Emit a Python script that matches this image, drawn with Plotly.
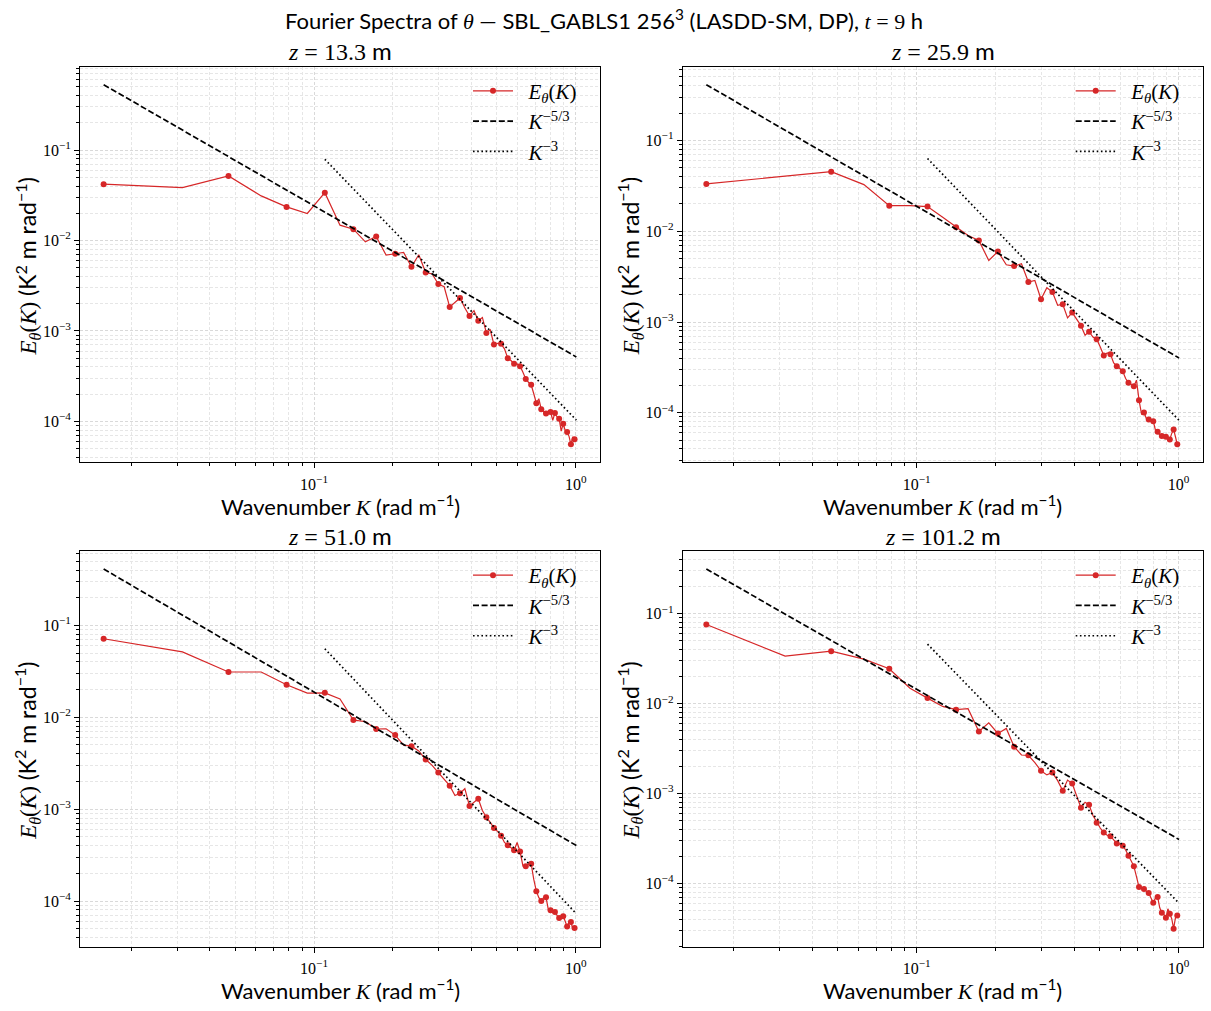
import numpy as np
import plotly.graph_objects as go

# ---------------- data ----------------
K = np.array([
    0.01571, 0.03142, 0.04712, 0.06283, 0.07854, 0.09425, 0.10996, 0.12566,
    0.14137, 0.15708, 0.17279, 0.18850, 0.20420, 0.21991, 0.23562, 0.25133,
    0.26704, 0.28274, 0.29845, 0.31416, 0.32987, 0.34558, 0.36128, 0.37699,
    0.39270, 0.40841, 0.42412, 0.43982, 0.45553, 0.47124, 0.48695, 0.50265,
    0.51836, 0.53407, 0.54978, 0.56549, 0.58119, 0.59690, 0.61261, 0.62832,
    0.64403, 0.65973, 0.67544, 0.69115, 0.70686, 0.72257, 0.73827, 0.75398,
    0.76969, 0.78540, 0.80111, 0.81681, 0.83252, 0.84823, 0.86394, 0.87965,
    0.89535, 0.91106, 0.92677, 0.94248, 0.95819, 0.97389, 0.98960, 1.00531])

E_z13 = [
    0.0419, 0.0384, 0.0517, 0.0311, 0.0235, 0.0199, 0.0338, 0.01476,
    0.01333, 0.00966, 0.01106, 0.00689, 0.00713, 0.00737, 0.00512, 0.00695,
    0.00444, 0.00426, 0.00330, 0.00308, 0.00184, 0.00207, 0.00231, 0.00179,
    0.00146, 0.00168, 0.00130, 0.00141, 0.00095, 0.00103, 0.000706, 0.000731,
    0.00072, 0.000634, 0.00050, 0.000471, 0.000433, 0.000432, 0.000408, 0.00035,
    0.000295, 0.000271, 0.000254, 0.000202, 0.000159, 0.000178, 0.000136, 0.000127,
    0.000122, 0.00013, 0.000127, 0.000103, 0.000124, 0.000112, 0.000107, 7.82e-5,
    9.42e-5, 7.95e-5, 7.62e-5, 6.84e-5, 5.58e-5, 6.76e-5, 6.34e-5, 6.5e-5]

E_z26 = [
    0.0332, 0.0403, 0.0453, 0.0326, 0.0191, 0.0191, 0.0187, 0.01425,
    0.01107, 0.00898, 0.0079, 0.00476, 0.00598, 0.00427, 0.00413, 0.00438,
    0.00276, 0.00287, 0.00178, 0.00239, 0.00214, 0.00153, 0.00157, 0.00111,
    0.00127, 0.00109, 0.000912, 0.000714, 0.000783, 0.000684, 0.000646, 0.000531,
    0.000427, 0.000456, 0.000442, 0.000355, 0.000326, 0.000308, 0.000287, 0.000239,
    0.000214, 0.000207, 0.000196, 0.000229, 0.000138, 9.7e-5, 0.000101, 8.67e-5,
    8.45e-5, 8.17e-5, 8.1e-5, 6.45e-5, 6.18e-5, 5.69e-5, 5.55e-5, 5.55e-5,
    5.45e-5, 5.37e-5, 5.1e-5, 5.93e-5, 6.56e-5, 5.45e-5, 4.5e-5, 4.5e-5]

E_z51 = [
    0.0715, 0.0515, 0.0311, 0.0311, 0.0226, 0.0183, 0.01845, 0.01585,
    0.00933, 0.00895, 0.00745, 0.00749, 0.0064, 0.00497, 0.00485, 0.0043,
    0.00347, 0.0030, 0.0025, 0.00211, 0.0018, 0.00141, 0.00149, 0.00167,
    0.00108, 0.00119, 0.0013, 0.000966, 0.000816, 0.00072, 0.000624, 0.000573,
    0.000514, 0.000434, 0.000406, 0.000383, 0.000358, 0.000434, 0.000346, 0.000241,
    0.000239, 0.000252, 0.000255, 0.000172, 0.000128, 0.000109, 0.0001, 0.000109,
    0.00011, 8.1e-5, 7.95e-5, 7.75e-5, 7.62e-5, 7.0e-5, 6.55e-5, 6.66e-5,
    6.84e-5, 6.03e-5, 5.27e-5, 5.92e-5, 5.92e-5, 5.0e-5, 5.1e-5, 5.15e-5]

E_z101 = [
    0.076, 0.0337, 0.0383, 0.0313, 0.0244, 0.01482, 0.01151, 0.0093,
    0.00857, 0.00879, 0.0049, 0.0061, 0.00466, 0.00529, 0.00331, 0.00268,
    0.00266, 0.00221, 0.00179, 0.00161, 0.00171, 0.00139, 0.00107, 0.00141,
    0.00129, 0.000948, 0.000694, 0.0008, 0.000749, 0.00057, 0.000474, 0.000413,
    0.000367, 0.000343, 0.000335, 0.000303, 0.000278, 0.000273, 0.000262, 0.000235,
    0.000203, 0.000175, 0.000155, 0.000119, 9.1e-5, 8.79e-5, 8.65e-5, 8.15e-5,
    7.82e-5, 6.89e-5, 6.07e-5, 6.89e-5, 7.06e-5, 5.34e-5, 4.71e-5, 4.51e-5,
    4.14e-5, 5.21e-5, 4.59e-5, 4.04e-5, 3.13e-5, 4.14e-5, 4.4e-5, 4.4e-5]

heights = ["13.3", "25.9", "51.0", "101.2"]
spectra = [E_z13, E_z26, E_z51, E_z101]
# reference power-law coefficients (value at K = 1)
coef_53 = [5.2e-4, 4.05e-4, 4.05e-4, 3.1e-4]
coef_3 = [1.05e-4, 8.4e-5, 7.4e-5, 6.1e-5]
k3_start_index = 6

# ---------------- style ----------------
W, H = 1211, 1011
RED = "#d62728"
SANS = "Lato"
SERIF = "Liberation Serif"
SP = "&nbsp;&nbsp;"

def fx(p):
    return p / W

def fy(p):
    return 1 - p / H

col_px = [(80, 600), (682.7, 1202.7)]
row_px = [(66.7, 462.3), (551, 946.7)]

fig = go.Figure()
annotations = []
layout = {}

for i in range(4):
    r, c = divmod(i, 2)
    sfx = "" if i == 0 else str(i + 1)
    xa, ya = "x" + sfx, "y" + sfx
    leg = "legend" + sfx
    E = np.array(spectra[i])

    fig.add_trace(go.Scatter(x=K, y=E, mode="lines", line=dict(color=RED, width=1.2),
                             xaxis=xa, yaxis=ya, showlegend=False, hoverinfo="skip"))
    fig.add_trace(go.Scatter(x=K[::2], y=E[::2], mode="markers",
                             marker=dict(color=RED, size=6), xaxis=xa, yaxis=ya,
                             showlegend=False))
    y53 = coef_53[i] * K ** (-5.0 / 3.0)
    fig.add_trace(go.Scatter(x=K, y=y53, mode="lines",
                             line=dict(color="black", width=1.7, dash="6px,2.6px"),
                             xaxis=xa, yaxis=ya, showlegend=False))
    K3 = K[k3_start_index:]
    y3 = coef_3[i] * K3 ** (-3.0)
    fig.add_trace(go.Scatter(x=K3, y=y3, mode="lines",
                             line=dict(color="black", width=1.7, dash="1.6px,2.6px"),
                             xaxis=xa, yaxis=ya, showlegend=False))
    # legend entries
    fig.add_trace(go.Scatter(x=[None], y=[None], mode="lines+markers",
                             line=dict(color=RED, width=1.2), marker=dict(color=RED, size=6),
                             name=SP + "<i>E</i><sub><i>θ</i></sub>(<i>K</i>)",
                             xaxis=xa, yaxis=ya, legend=leg))
    fig.add_trace(go.Scatter(x=[None], y=[None], mode="lines",
                             line=dict(color="black", width=1.7, dash="6px,2.6px"),
                             name=SP + "<i>K</i><sup>−5/3</sup>", xaxis=xa, yaxis=ya, legend=leg))
    fig.add_trace(go.Scatter(x=[None], y=[None], mode="lines",
                             line=dict(color="black", width=1.7, dash="1.6px,2.6px"),
                             name=SP + "<i>K</i><sup>−3</sup>", xaxis=xa, yaxis=ya, legend=leg))

    # ranges like matplotlib (5% margins in log space)
    lx = np.log10(K)
    sx = lx.max() - lx.min()
    xr = [lx.min() - 0.05 * sx, lx.max() + 0.05 * sx]
    allv = np.concatenate([E, y53, y3])
    ly = np.log10(allv)
    sy = ly.max() - ly.min()
    yr = [ly.min() - 0.05 * sy, ly.max() + 0.05 * sy]

    x0, x1 = col_px[c]
    y0, y1 = row_px[r]
    common = dict(type="log", showline=True, mirror=True, linecolor="black", linewidth=1,
                  ticks="outside", ticklen=5, tickwidth=1, tickcolor="black",
                  tickfont=dict(family=SERIF, size=16, color="black"),
                  showgrid=True, gridcolor="#d9d9d9", griddash="3px,2px", gridwidth=0.8,
                  zeroline=False,
                  minor=dict(dtick="D1", ticks="outside", ticklen=3, tickcolor="black",
                             showgrid=True, gridcolor="#e6e6e6", griddash="3px,2px",
                             gridwidth=0.6))
    layout["xaxis" + sfx] = dict(common, range=xr, domain=[fx(x0), fx(x1)], anchor=ya,
                                 tickmode="array", tickvals=[0.1, 1],
                                 ticktext=["10<sup>−1</sup>", "10<sup>0</sup>"],
                                 ticklabelstandoff=2)
    layout["yaxis" + sfx] = dict(common, range=yr, domain=[fy(y1), fy(y0)], anchor=xa,
                                 tickmode="array", tickvals=[1e-1, 1e-2, 1e-3, 1e-4],
                                 ticktext=["10<sup>−1</sup>", "10<sup>−2</sup>",
                                           "10<sup>−3</sup>", "10<sup>−4</sup>"])
    layout[leg] = dict(x=fx(x0 + 388), y=fy(y0 + 4), xanchor="left", yanchor="top",
                       bgcolor="rgba(255,255,255,0)", borderwidth=0,
                       font=dict(family=SERIF, size=21, color="black"),
                       itemwidth=40, tracegroupgap=0)

    cx = (x0 + x1) / 2
    annotations.append(dict(x=fx(cx), y=fy(y0 - 16), xref="paper", yref="paper",
                            text=f"<span style=\"font-family:{SERIF}\"><i>z</i> = {heights[i]}</span> m",
                            showarrow=False, font=dict(family=SANS, size=24, color="black"),
                            xanchor="center", yanchor="middle"))
    annotations.append(dict(x=fx(cx), y=fy(y1 + 43), xref="paper", yref="paper",
                            text=f"Wavenumber <span style=\"font-family:{SERIF}\"><i>K</i></span> (rad m<sup>−1</sup>)",
                            showarrow=False, font=dict(family=SANS, size=22, color="black"),
                            xanchor="center", yanchor="middle"))
    annotations.append(dict(x=fx(x0 - 53), y=fy((y0 + y1) / 2 + 2), xref="paper", yref="paper",
                            text=f"<span style=\"font-family:{SERIF}\"><i>E</i><sub><i>θ</i></sub>(<i>K</i>)</span> (K<sup>2</sup> m rad<sup>−1</sup>)",
                            showarrow=False, font=dict(family=SANS, size=23, color="black"),
                            textangle=-90, xanchor="center", yanchor="middle"))

annotations.append(dict(x=fx(604), y=fy(20), xref="paper", yref="paper",
                        text=f"Fourier Spectra of <span style=\"font-family:{SERIF}\"><i>θ</i></span> — SBL_GABLS1 256<sup>3</sup> (LASDD-SM, DP), <span style=\"font-family:{SERIF}\"><i>t</i> = 9</span> h",
                        showarrow=False, font=dict(family=SANS, size=22, color="black"),
                        xanchor="center", yanchor="middle"))

fig.update_layout(width=W, height=H, margin=dict(l=0, r=0, t=0, b=0),
                  paper_bgcolor="white", plot_bgcolor="white",
                  annotations=annotations, **layout)

fig.write_html("out.html")
